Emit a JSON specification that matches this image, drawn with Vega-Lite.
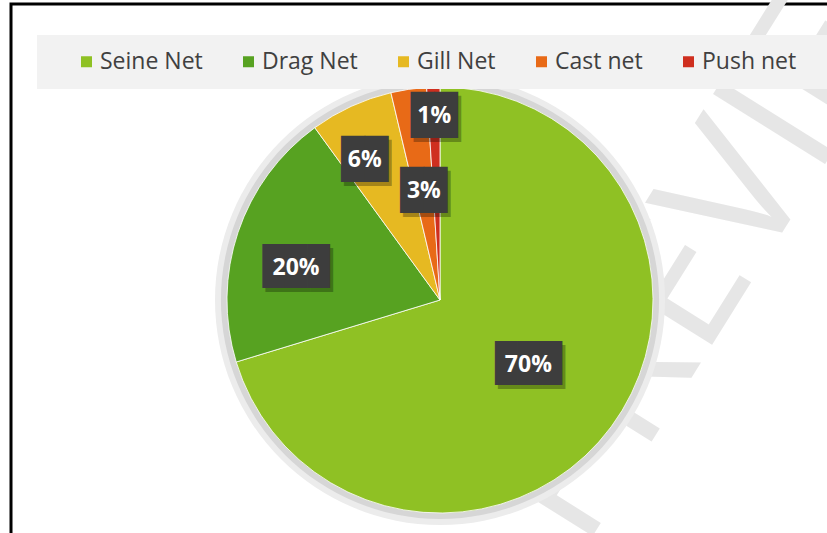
{
  "$schema": "https://vega.github.io/schema/vega-lite/v6.json",
  "width": 858,
  "height": 592,
  "autosize": "none",
  "padding": {"left": 11, "top": 4, "right": 0, "bottom": 0},
  "background": "white",
  "view": {"stroke": "#000000", "strokeWidth": 3},
  "data": {
    "values": [
      {"net": "Seine Net", "share": 70.3, "label": "70%"},
      {"net": "Drag Net", "share": 19.7, "label": "20%"},
      {"net": "Gill Net", "share": 6.3, "label": "6%"},
      {"net": "Cast net", "share": 2.7, "label": "3%"},
      {"net": "Push net", "share": 1.0, "label": "1%"}
    ]
  },
  "layer": [
    {
      "data": {"values": [{"mark": "PREVIEW"}]},
      "mark": {"type": "text", "text": "PREVIEW", "font": "Open Sans", "fontSize": 185, "fill": "#e6e6e6", "angle": -58, "align": "center", "baseline": "middle", "radius": 315, "theta": 1.24},
      "encoding": {}
    },
    {
      "data": {"values": [{"ring": "outer"}]},
      "mark": {"type": "arc", "radius": 225, "fill": "#ececec"},
      "encoding": {}
    },
    {
      "data": {"values": [{"ring": "inner"}]},
      "mark": {"type": "arc", "radius": 219, "fill": "#d6d6d6"},
      "encoding": {}
    },
    {
      "encoding": {
        "theta": {"field": "share", "type": "quantitative", "stack": true},
        "order": {"field": "share", "sort": "descending"},
        "detail": {"field": "net"}
      },
      "layer": [
        {
          "mark": {"type": "arc", "radius": 213, "stroke": "#ffffff", "strokeWidth": 0.8},
          "encoding": {
            "color": {
              "field": "net",
              "type": "nominal",
              "scale": {
                "domain": ["Seine Net", "Drag Net", "Gill Net", "Cast net", "Push net"],
                "range": ["#8fc124", "#57a221", "#e6b922", "#e86a17", "#cf2f1f"]
              },
              "legend": {
                "orient": "none",
                "legendX": 26,
                "legendY": 31,
                "direction": "horizontal",
                "columns": 5,
                "title": " ",
                "titleOrient": "left",
                "titleFontSize": 8,
                "titlePadding": 23,
                "fillColor": "#f2f2f2",
                "padding": 15,
                "columnPadding": 34,
                "symbolType": "square",
                "symbolSize": 121,
                "symbolStrokeWidth": 0,
                "labelFont": "Open Sans",
                "labelFontSize": 23,
                "labelColor": "#404040",
                "labelOffset": 2,
                "labelLimit": 0,
                "labelExpr": "datum.label == 'Push net' ? datum.label + '\u2800\u2800' : datum.label"
              }
            }
          }
        },
        {
          "mark": {"type": "text", "color": "#000000", "opacity": 0.28, "align": "center", "baseline": "middle",
            "font": "DejaVu Sans Mono",
            "dx": {"expr": "3 + (datum.net == 'Gill Net' ? -11 : (datum.net == 'Drag Net' ? 2 : 0))"},
            "dy": {"expr": "4 + (datum.net == 'Drag Net' ? 17 : 0)"},
            "radius": {"expr": "datum.net == 'Seine Net' || datum.net == 'Cast net' ? 110 : (datum.net == 'Push net' ? 184 : 154)"}},
          "encoding": {
            "text": {"condition": {"test": "length(datum.label) > 2", "value": "███"}, "value": "██"},
            "size": {"condition": {"test": "length(datum.label) > 2", "value": 37}, "value": 39}
          }
        },
        {
          "mark": {"type": "text", "color": "#3d3d3d", "align": "center", "baseline": "middle",
            "font": "DejaVu Sans Mono",
            "dx": {"expr": "datum.net == 'Gill Net' ? -11 : (datum.net == 'Drag Net' ? 2 : 0)"},
            "dy": {"expr": "datum.net == 'Drag Net' ? 17 : 0"},
            "radius": {"expr": "datum.net == 'Seine Net' || datum.net == 'Cast net' ? 110 : (datum.net == 'Push net' ? 184 : 154)"}},
          "encoding": {
            "text": {"condition": {"test": "length(datum.label) > 2", "value": "███"}, "value": "██"},
            "size": {"condition": {"test": "length(datum.label) > 2", "value": 37}, "value": 39}
          }
        },
        {
          "mark": {"type": "text", "font": "Open Sans", "fontWeight": "bold", "fontSize": 23, "color": "#ffffff", "align": "center", "baseline": "middle",
            "dx": {"expr": "datum.net == 'Gill Net' ? -11 : (datum.net == 'Drag Net' ? 2 : 0)"},
            "dy": {"expr": "datum.net == 'Drag Net' ? 17 : 0"},
            "radius": {"expr": "datum.net == 'Seine Net' || datum.net == 'Cast net' ? 110 : (datum.net == 'Push net' ? 184 : 154)"}},
          "encoding": {
            "text": {"field": "label"}
          }
        }
      ]
    }
  ]
}
